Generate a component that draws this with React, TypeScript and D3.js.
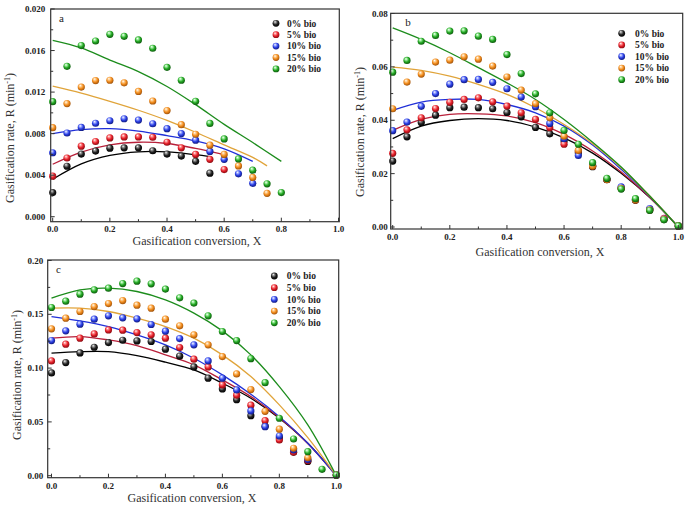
import React from "react";
import * as d3 from "d3";

// ---------- shared data ----------
const SERIES = ["0% bio", "5% bio", "10% bio", "15% bio", "20% bio"];
const X_PTS = [0, 0.05, 0.1, 0.15, 0.2, 0.25, 0.3, 0.35, 0.4, 0.45, 0.5, 0.55, 0.6, 0.65, 0.7, 0.75, 0.8, 0.85, 0.9, 0.95, 1.0];
const X_FIT = [0, 0.1, 0.2, 0.3, 0.4, 0.5, 0.6, 0.7, 0.8, 0.9, 1.0];
const X_TICKS = [0, 0.2, 0.4, 0.6, 0.8, 1.0];

// ---------- panel a ----------
const aYTicks = [0, 0.004, 0.008, 0.012, 0.016, 0.02];
const aPts0 = [0.00232, 0.00486, 0.00603, 0.00632, 0.0066, 0.00663, 0.00663, 0.00635, 0.00603, 0.00584, 0.00533, 0.00419];
const aPts5 = [0.0039, 0.00565, 0.00679, 0.00724, 0.00759, 0.00768, 0.00768, 0.00765, 0.00717, 0.00663, 0.006, 0.00552, 0.00454];
const aPts10 = [0.00616, 0.00806, 0.0086, 0.009, 0.00924, 0.00943, 0.0093, 0.00895, 0.00848, 0.008, 0.00737, 0.00629, 0.00552, 0.00413, 0.00321];
const aPts15 = [0.00857, 0.01089, 0.01248, 0.01311, 0.01314, 0.01289, 0.01206, 0.01114, 0.01022, 0.00886, 0.00794, 0.00689, 0.006, 0.00489, 0.00378, 0.00225];
const aPts20 = [0.01108, 0.01448, 0.01648, 0.01692, 0.01756, 0.01737, 0.01702, 0.01622, 0.01438, 0.01314, 0.01111, 0.00898, 0.00749, 0.00556, 0.00448, 0.00317, 0.00232];
const aFitX0 = [0, 0.1, 0.2, 0.3, 0.4, 0.5, 0.55];
const aFitX5 = [0, 0.1, 0.2, 0.3, 0.4, 0.5, 0.6];
const aFitX10 = [0, 0.1, 0.2, 0.3, 0.4, 0.5, 0.6, 0.7];
const aFitX15 = [0, 0.1, 0.2, 0.3, 0.4, 0.5, 0.6, 0.7, 0.75];
const aFitX20 = [0, 0.1, 0.2, 0.3, 0.4, 0.5, 0.6, 0.7, 0.8];
const aFit0 = [0.0036, 0.00508, 0.0059, 0.00625, 0.00625, 0.00597, 0.00578];
const aFit5 = [0.00505, 0.00622, 0.00692, 0.00717, 0.00705, 0.00657, 0.00597];
const aFit10 = [0.008, 0.00838, 0.00848, 0.00825, 0.00781, 0.0073, 0.00654, 0.00533];
const aFit15 = [0.01257, 0.0119, 0.01111, 0.01025, 0.00927, 0.00813, 0.00692, 0.00571, 0.00489];
const aFit20 = [0.01698, 0.01625, 0.01508, 0.01397, 0.01254, 0.01079, 0.00889, 0.00714, 0.00533];

// ---------- panel b ----------
const bYTicks = [0, 0.02, 0.04, 0.06, 0.08];
const bPts0 = [0.0247, 0.0338, 0.0392, 0.0419, 0.0447, 0.0449, 0.0447, 0.0443, 0.0429, 0.0413, 0.0373, 0.0349, 0.0322, 0.0278, 0.0226, 0.0177, 0.0145, 0.0101, 0.0064, 0.0029, 0.0004];
const bPts5 = [0.0276, 0.0364, 0.0409, 0.0444, 0.0467, 0.0478, 0.0484, 0.0469, 0.0453, 0.0428, 0.0403, 0.0372, 0.031, 0.0285, 0.0228, 0.0178, 0.0146, 0.0101, 0.0066, 0.0032, 0.0004];
const bPts10 = [0.0361, 0.0393, 0.0452, 0.05, 0.0535, 0.0552, 0.0553, 0.0542, 0.0518, 0.0487, 0.0451, 0.0388, 0.0331, 0.0268, 0.0231, 0.0178, 0.015, 0.0102, 0.0069, 0.003, 0.0004];
const bPts15 = [0.0443, 0.0543, 0.0573, 0.0618, 0.0625, 0.0638, 0.0629, 0.0603, 0.0562, 0.0513, 0.0462, 0.0409, 0.034, 0.0287, 0.0228, 0.0177, 0.0145, 0.0101, 0.0064, 0.0029, 0.0004];
const bPts20 = [0.058, 0.0624, 0.0696, 0.0718, 0.0734, 0.0735, 0.0715, 0.0703, 0.0646, 0.0575, 0.0499, 0.0428, 0.0362, 0.031, 0.0241, 0.0182, 0.0142, 0.0106, 0.0062, 0.0027, 0.0004];
const bFit0 = [0.0331, 0.0378, 0.0399, 0.0406, 0.0399, 0.0374, 0.0334, 0.0277, 0.0201, 0.011, 0];
const bFit5 = [0.0362, 0.0403, 0.0422, 0.0424, 0.0416, 0.0391, 0.0347, 0.0285, 0.0206, 0.0111, 0];
const bFit10 = [0.0437, 0.0468, 0.0478, 0.0478, 0.0459, 0.0428, 0.0378, 0.0307, 0.0216, 0.0114, 0];
const bFit15 = [0.0599, 0.0587, 0.0565, 0.0534, 0.0497, 0.0447, 0.0384, 0.0312, 0.0222, 0.0116, 0];
const bFit20 = [0.0746, 0.0703, 0.0653, 0.0597, 0.054, 0.0478, 0.0403, 0.0318, 0.0225, 0.0116, 0];

// ---------- panel c ----------
const cYTicks = [0, 0.05, 0.1, 0.15, 0.2];
const cPts0 = [0.0955, 0.1051, 0.1141, 0.1194, 0.1237, 0.1259, 0.1253, 0.1247, 0.1176, 0.1111, 0.1011, 0.0906, 0.0806, 0.0707, 0.0558, 0.046, 0.035, 0.022, 0.0133, null, 0.0006];
const cPts5 = [0.1067, 0.1222, 0.1278, 0.1318, 0.1355, 0.1352, 0.133, 0.1309, 0.1278, 0.1191, 0.1083, 0.1011, 0.0844, 0.0748, 0.0655, 0.0512, 0.0332, 0.0218, 0.014, null, 0.0006];
const cPts10 = [0.1256, 0.1346, 0.1408, 0.1455, 0.1486, 0.1467, 0.1458, 0.1405, 0.1343, 0.1274, 0.1216, 0.1067, 0.0906, 0.0797, 0.0602, 0.0456, 0.0369, 0.024, 0.015, null, 0.0006];
const cPts15 = [0.1365, 0.1464, 0.1526, 0.1572, 0.16, 0.1628, 0.1585, 0.1557, 0.1455, 0.1393, 0.1309, 0.1216, 0.1107, 0.0946, 0.08, 0.0598, 0.0432, 0.0255, 0.0167, null, 0.0006];
const cPts20 = [0.1563, 0.1622, 0.1687, 0.1727, 0.1743, 0.1786, 0.1808, 0.1783, 0.1734, 0.1653, 0.1604, 0.1486, 0.134, 0.1256, 0.1088, 0.0865, 0.0534, 0.0341, 0.0223, 0.0059, 0.0006];
const cFit0 = [0.1139, 0.1153, 0.1153, 0.1116, 0.1055, 0.0983, 0.086, 0.072, 0.0534, 0.0301, 0];
const cFit5 = [0.1278, 0.1293, 0.1262, 0.1209, 0.1123, 0.103, 0.089, 0.0735, 0.054, 0.03, 0];
const cFit10 = [0.1479, 0.1439, 0.1386, 0.1309, 0.1216, 0.1092, 0.0937, 0.0757, 0.0549, 0.0302, 0];
const cFit15 = [0.1557, 0.1557, 0.1526, 0.1464, 0.1386, 0.1278, 0.1123, 0.0921, 0.0658, 0.0354, 0];
const cFit20 = [0.165, 0.1727, 0.1743, 0.1712, 0.1634, 0.1511, 0.1346, 0.1123, 0.0828, 0.0472, 0];

// ---------- styles ----------
const BALL = ["#222222", "#e5202a", "#2b40e6", "#f28c1c", "#24a824"];
const BALL_HI = ["#9a9a9a", "#ff9a9a", "#a8b4ff", "#ffd39a", "#a6f0a6"];
const BALL_LO = ["#000000", "#8a0a10", "#101a80", "#a0520a", "#0d5a0d"];
const LINE = ["#000000", "#b8203a", "#2030d8", "#e0a43a", "#1c8c1c"];
const SERIF = "'Liberation Serif', 'Times New Roman', serif";

type Cfg = {
  label: string;
  frame: [number, number, number, number];
  xr: [number, number];
  yr: [number, number];
  yMax: number;
  yTicks: number[];
  yFmt: string;
  pts: (number | null)[][];
  fitX: number[][];
  fit: number[][];
  labelPos: [number, number];
  legend: [number, number, number, number];
  yTitle: [number, number];
  xTitle: [number, number];
  yLabGap: number;
  xLabDy: number;
};

const panels: Cfg[] = [
  {
    label: "a",
    frame: [50.7, 9, 339.3, 221.7],
    xr: [52.7, 338.5],
    yr: [216.7, 9],
    yMax: 0.02,
    yTicks: aYTicks,
    yFmt: ".3f",
    pts: [aPts0, aPts5, aPts10, aPts15, aPts20],
    fitX: [aFitX0, aFitX5, aFitX10, aFitX15, aFitX20],
    fit: [aFit0, aFit5, aFit10, aFit15, aFit20],
    labelPos: [61.5, 21.5],
    legend: [276, 287, 23.3, 11.4],
    yTitle: [10, 138],
    xTitle: [197, 244.5],
    yLabGap: 5.5,
    xLabDy: 10,
  },
  {
    label: "b",
    frame: [390.7, 13.3, 682.7, 229],
    xr: [392.7, 678.3],
    yr: [227, 13.5],
    yMax: 0.08,
    yTicks: bYTicks,
    yFmt: ".2f",
    pts: [bPts0, bPts5, bPts10, bPts15, bPts20],
    fitX: [X_FIT, X_FIT, X_FIT, X_FIT, X_FIT],
    fit: [bFit0, bFit5, bFit10, bFit15, bFit20],
    labelPos: [408, 26],
    legend: [621.7, 635, 33.3, 11.6],
    yTitle: [360, 132],
    xTitle: [540, 256],
    yLabGap: 3,
    xLabDy: 11,
  },
  {
    label: "c",
    frame: [47.7, 260, 338.7, 477.7],
    xr: [51.5, 336.3],
    yr: [475.7, 260.5],
    yMax: 0.2,
    yTicks: cYTicks,
    yFmt: ".2f",
    pts: [cPts0, cPts5, cPts10, cPts15, cPts20],
    fitX: [X_FIT, X_FIT, X_FIT, X_FIT, X_FIT],
    fit: [cFit0, cFit5, cFit10, cFit15, cFit20],
    labelPos: [58.5, 273],
    legend: [274.3, 286.7, 276, 11.7],
    yTitle: [17, 375],
    xTitle: [192, 502],
    yLabGap: 4.5,
    xLabDy: 11,
  },
];

function Ball({ cx, cy, i, r = 3.6 }: { cx: number; cy: number; i: number; r?: number }) {
  return <circle cx={cx} cy={cy} r={r} fill={`url(#ball-${i})`} />;
}

function Panel({ c }: { c: Cfg }) {
  const x = d3.scaleLinear().domain([0, 1]).range(c.xr);
  const y = d3.scaleLinear().domain([0, c.yMax]).range(c.yr);
  const [fx0, fy0, fx1, fy1] = c.frame;
  const fmt = d3.format(c.yFmt);
  const yStep = c.yTicks[1] - c.yTicks[0];
  const yMinor = c.yTicks.slice(0, -1).map((t) => t + yStep / 2);
  const xMinor = X_TICKS.slice(0, -1).map((t) => t + 0.1);
  const line = d3
    .line<[number, number]>()
    .x((d) => x(d[0]))
    .y((d) => y(d[1]))
    .curve(d3.curveCatmullRom.alpha(0.5));
  const stroke = "#333";
  return (
    <g>
      {c.fit.map((vals, i) => (
        <path
          key={"f" + i}
          d={line(vals.map((v, k) => [c.fitX[i][k], v] as [number, number])) || ""}
          fill="none"
          stroke={LINE[i]}
          strokeWidth={1.3}
        />
      ))}
      {c.pts.map((vals, i) => (
        <g key={"p" + i}>
          {vals.map((v, k) =>
            v == null ? null : <Ball key={k} cx={x(X_PTS[k])} cy={y(v)} i={i} />
          )}
        </g>
      ))}
      <rect x={fx0} y={fy0} width={fx1 - fx0} height={fy1 - fy0} fill="none" stroke={stroke} strokeWidth={1.2} />
      {c.yTicks.map((t) => (
        <g key={"yt" + t}>
          <line x1={fx0} x2={fx0 + 4} y1={y(t)} y2={y(t)} stroke={stroke} strokeWidth={1} />
          <text
            x={fx0 - c.yLabGap}
            y={y(t)}
            dy="0.35em"
            textAnchor="end"
            fontFamily={SERIF}
            fontWeight="bold"
            fontSize={9}
            fill="#222"
          >
            {fmt(t)}
          </text>
        </g>
      ))}
      {yMinor.map((t) => (
        <line key={"ym" + t} x1={fx0} x2={fx0 + 2.5} y1={y(t)} y2={y(t)} stroke={stroke} strokeWidth={1} />
      ))}
      {X_TICKS.map((t) => (
        <g key={"xt" + t}>
          <line x1={x(t)} x2={x(t)} y1={fy1} y2={fy1 - 4} stroke={stroke} strokeWidth={1} />
          <text
            x={x(t)}
            y={fy1 + c.xLabDy}
            textAnchor="middle"
            fontFamily={SERIF}
            fontWeight="bold"
            fontSize={9}
            fill="#222"
          >
            {d3.format(".1f")(t)}
          </text>
        </g>
      ))}
      {xMinor.map((t) => (
        <line key={"xm" + t} x1={x(t)} x2={x(t)} y1={fy1} y2={fy1 - 2.5} stroke={stroke} strokeWidth={1} />
      ))}
      <text x={c.labelPos[0]} y={c.labelPos[1]} textAnchor="middle" fontFamily={SERIF} fontSize={11} fill="#222">
        {c.label}
      </text>
      {SERIES.map((s, i) => {
        const ly = c.legend[2] + i * c.legend[3];
        return (
          <g key={"lg" + i}>
            <Ball cx={c.legend[0]} cy={ly} i={i} r={3.4} />
            <text x={c.legend[1]} y={ly} dy="0.35em" fontFamily={SERIF} fontWeight="bold" fontSize={9.5} fill="#222">
              {s}
            </text>
          </g>
        );
      })}
      <text
        transform={`translate(${c.yTitle[0]},${c.yTitle[1]}) rotate(-90)`}
        textAnchor="middle"
        dy="0.35em"
        fontFamily={SERIF}
        fontSize={12}
        fill="#333"
      >
        Gasification rate, R (min
        <tspan fontSize={8} dy={-4}>-1</tspan>
        <tspan dy={4}>)</tspan>
      </text>
      <text x={c.xTitle[0]} y={c.xTitle[1]} textAnchor="middle" fontFamily={SERIF} fontSize={12} fill="#333">
        Gasification conversion, X
      </text>
    </g>
  );
}

export default function App() {
  return (
    <svg
      width={686}
      height={510}
      viewBox="0 0 686 510"
      style={{ position: "absolute", left: 0, top: 0, background: "#fff" }}
    >
      <defs>
        {BALL.map((col, i) => (
          <radialGradient key={i} id={`ball-${i}`} cx="45%" cy="40%" r="60%" fx="35%" fy="28%">
            <stop offset="0%" stopColor="#ffffff" />
            <stop offset="22%" stopColor={BALL_HI[i]} />
            <stop offset="60%" stopColor={col} />
            <stop offset="100%" stopColor={BALL_LO[i]} />
          </radialGradient>
        ))}
      </defs>
      <rect x={0} y={0} width={686} height={510} fill="#fff" />
      {panels.map((p) => (
        <Panel key={p.label} c={p} />
      ))}
    </svg>
  );
}
